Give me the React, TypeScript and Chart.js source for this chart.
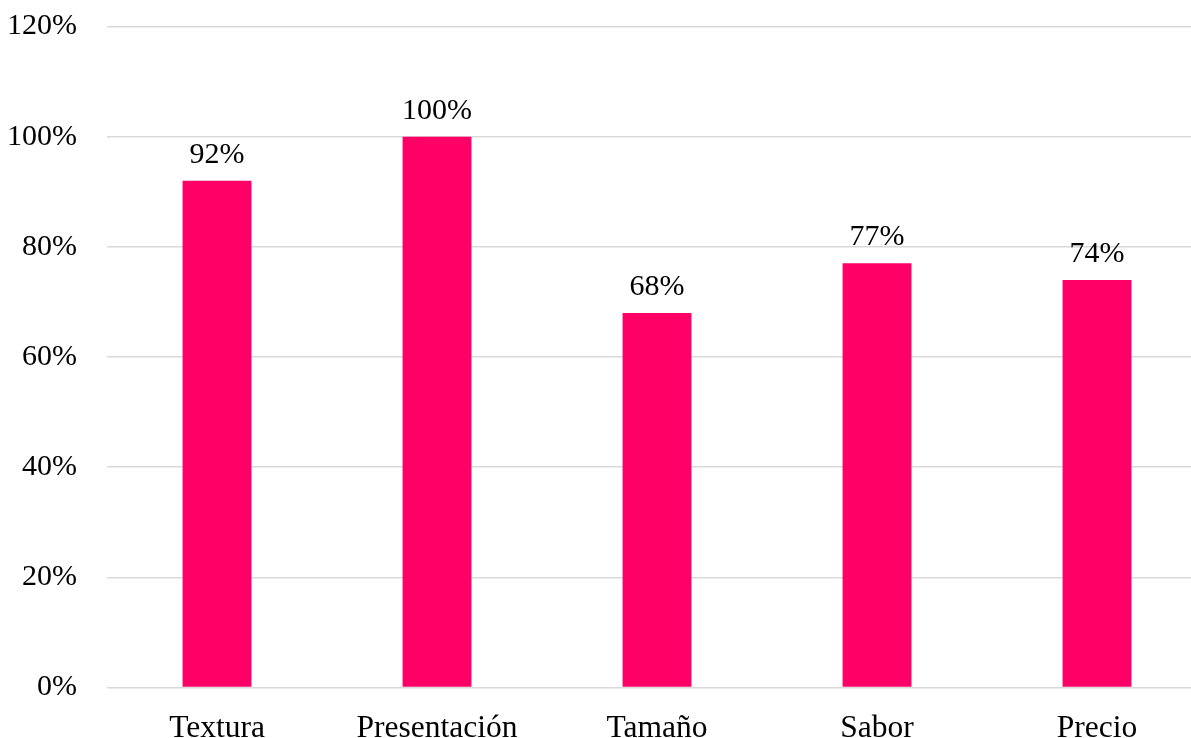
import React, { useEffect, useRef } from "react";
import { Chart, registerables } from "chart.js";

Chart.register(...registerables);

const categories = ["Textura", "Presentación", "Tamaño", "Sabor", "Precio"];
const percentages = [92, 100, 68, 77, 74];
const yTicks = [0, 20, 40, 60, 80, 100, 120];

const BAR_COLOR = "#FF0066";
const GRID_COLOR = "#D9D9D9";
const FONT_FAMILY = "'Liberation Serif', 'Times New Roman', serif";

// Writes each bar's percentage just above it.
const valueLabels = {
  id: "valueLabels",
  afterDatasetsDraw(chart: any) {
    const ctx = chart.ctx;
    const meta = chart.getDatasetMeta(0);
    ctx.save();
    ctx.font = `30px ${FONT_FAMILY}`;
    ctx.fillStyle = "#000000";
    ctx.textAlign = "center";
    ctx.textBaseline = "alphabetic";
    meta.data.forEach((bar: any, i: number) => {
      ctx.fillText(`${percentages[i]}%`, bar.x, bar.y - 18);
    });
    ctx.restore();
  },
};

export default function App() {
  const canvasRef = useRef<HTMLCanvasElement | null>(null);

  useEffect(() => {
    document.documentElement.style.overflow = "hidden";
    document.body.style.overflow = "hidden";
    const canvas = canvasRef.current;
    if (!canvas) return;
    const chart = new Chart(canvas, {
      type: "bar",
      data: {
        labels: categories,
        datasets: [
          {
            data: percentages,
            backgroundColor: BAR_COLOR,
            borderWidth: 0,
            categoryPercentage: 1,
            barPercentage: 0.313,
          },
        ],
      },
      options: {
        responsive: false,
        animation: false,
        maintainAspectRatio: false,
        layout: { padding: { top: 26.5, right: 13, bottom: 0, left: 0 } },
        plugins: {
          legend: { display: false },
          tooltip: { enabled: false },
        },
        scales: {
          x: {
            grid: { display: false, drawTicks: false },
            border: { display: false },
            ticks: {
              color: "#000000",
              padding: 22,
              maxRotation: 0,
              autoSkip: false,
              font: { family: FONT_FAMILY, size: 31.5 },
            },
            afterFit(scale: any) {
              scale.height = 72.5;
            },
          },
          y: {
            min: 0,
            max: 120,
            afterBuildTicks(scale: any) {
              scale.ticks = yTicks.map((v) => ({ value: v }));
            },
            grid: { color: GRID_COLOR, lineWidth: 1.5, drawTicks: false },
            border: { display: false },
            ticks: {
              color: "#000000",
              padding: 30,
              font: { family: FONT_FAMILY, size: 30 },
              callback: (v: any) => `${v}%`,
            },
            afterFit(scale: any) {
              scale.width = 107;
              scale.paddingTop = 18;
              scale.paddingBottom = 18;
            },
          },
        },
      },
      plugins: [valueLabels],
    });
    return () => chart.destroy();
  }, []);

  return (
    <div style={{ position: "fixed", left: 0, top: 0, width: 1220, height: 760, background: "#ffffff" }}>
      <canvas ref={canvasRef} width={1220} height={760} style={{ display: "block" }} />
    </div>
  );
}
